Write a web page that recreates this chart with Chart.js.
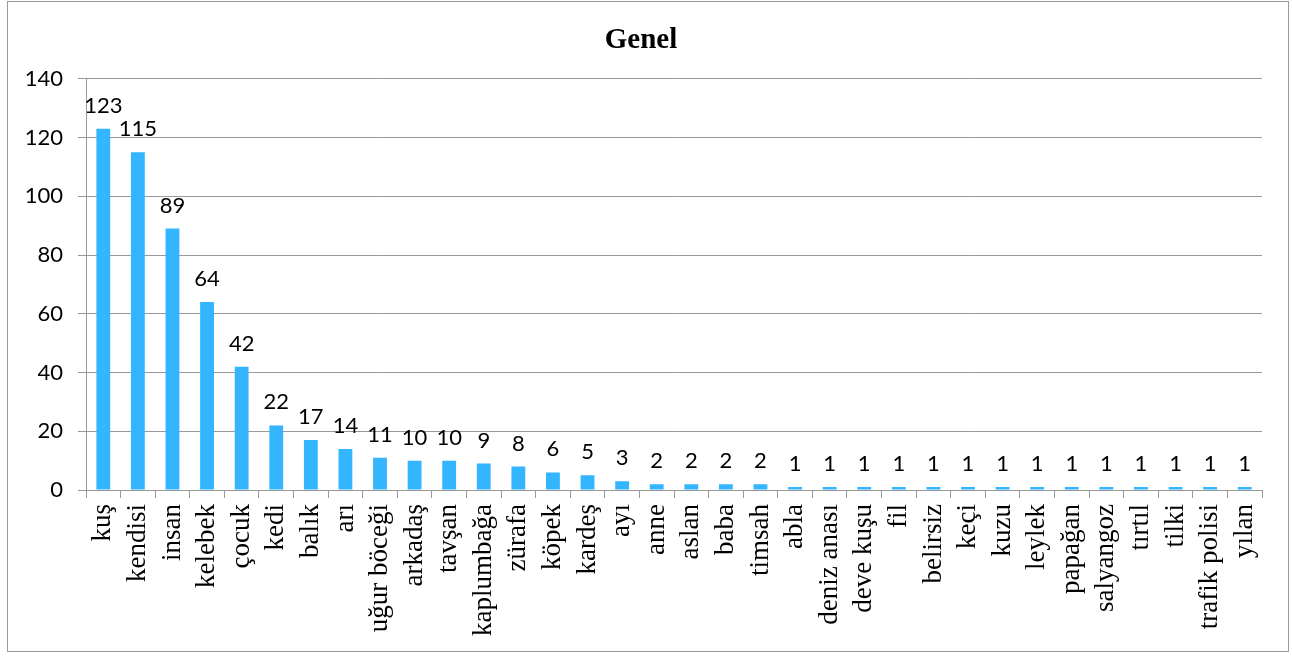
<!DOCTYPE html>
<html>
<head>
<meta charset="utf-8">
<script src="https://cdn.jsdelivr.net/npm/chart.js@4"></script>
<style>
  body { margin: 0; background: #fff; }
  #wrap { width: 1292px; height: 657px; }
</style>
</head>
<body>
<div id="wrap"><canvas id="genelChart"></canvas></div>
<script>
  // chart data
  const categories = [
    "kuş", "kendisi", "insan", "kelebek", "çocuk", "kedi", "balık", "arı",
    "uğur böceği", "arkadaş", "tavşan", "kaplumbağa", "zürafa", "köpek",
    "kardeş", "ayı", "anne", "aslan", "baba", "timsah", "abla", "deniz anası",
    "deve kuşu", "fil", "belirsiz", "keçi", "kuzu", "leylek", "papağan",
    "salyangoz", "tırtıl", "tilki", "trafik polisi", "yılan"
  ];
  const counts = [
    123, 115, 89, 64, 42, 22, 17, 14, 11, 10, 10, 9, 8, 6, 5, 3, 2, 2, 2, 2,
    1, 1, 1, 1, 1, 1, 1, 1, 1, 1, 1, 1, 1, 1
  ];
  const yTicks = [0, 20, 40, 60, 80, 100, 120, 140];

  // values written above each bar
  const valueLabels = {
    id: "valueLabels",
    afterDatasetsDraw(chart) {
      const ctx = chart.ctx;
      const meta = chart.getDatasetMeta(0);
      ctx.save();
      ctx.font = "22px Lato";
      ctx.fillStyle = "#000";
      ctx.textAlign = "center";
      ctx.textBaseline = "alphabetic";
      meta.data.forEach((bar, i) => {
        ctx.fillText(counts[i], bar.x, bar.y - 16);
      });
      ctx.restore();
    }
  };

  // outer frame
  const frame = {
    id: "frame",
    afterDraw(chart) {
      const ctx = chart.ctx;
      ctx.save();
      ctx.strokeStyle = "#9a9a9a";
      ctx.lineWidth = 1;
      ctx.strokeRect(7.5, 1.5, 1281, 650);
      ctx.restore();
    }
  };

  const ctx = document.getElementById("genelChart").getContext("2d");
  const genelChart = new Chart(ctx, {
    type: "bar",
    data: {
      labels: categories,
      datasets: [
        {
          label: "Genel",
          data: counts,
          backgroundColor: "#33b5ff",
          borderWidth: 0,
          barPercentage: 0.4,
          categoryPercentage: 1.0,
        },
      ],
    },
    options: {
      responsive: true,
      maintainAspectRatio: false,
      animation: false,
      layout: {
        padding: { left: 20, right: 30, top: 0, bottom: 0 },
      },
      plugins: {
        legend: { display: false },
        tooltip: { enabled: false },
        title: {
          display: true,
          text: "Genel",
          color: "#000",
          font: { family: "Liberation Serif", size: 29, weight: "bold", lineHeight: 1.2 },
          padding: { top: 23, bottom: 21 },
        },
      },
      scales: {
        x: {
          grid: {
            drawOnChartArea: false,
            tickLength: 8,
            color: "#999",
            offset: true,
          },
          border: { color: "#999" },
          ticks: {
            color: "#000",
            font: { family: "Liberation Serif", size: 27 },
            minRotation: 90,
            maxRotation: 90,
            autoSkip: false,
            padding: 6,
          },
          afterFit(scale) {
            scale.height = 167;
          },
        },
        y: {
          min: 0,
          max: 140,
          afterBuildTicks(scale) {
            scale.ticks = yTicks.map((v) => ({ value: v }));
          },
          grid: {
            color: "#999",
            tickLength: 8,
          },
          border: { color: "#999" },
          ticks: {
            color: "#000",
            font: { family: "Lato", size: 22 },
            padding: 15,
          },
          afterFit(scale) {
            scale.width = 66;
          },
        },
      },
    },
    plugins: [valueLabels, frame],
  });
</script>
</body>
</html>
